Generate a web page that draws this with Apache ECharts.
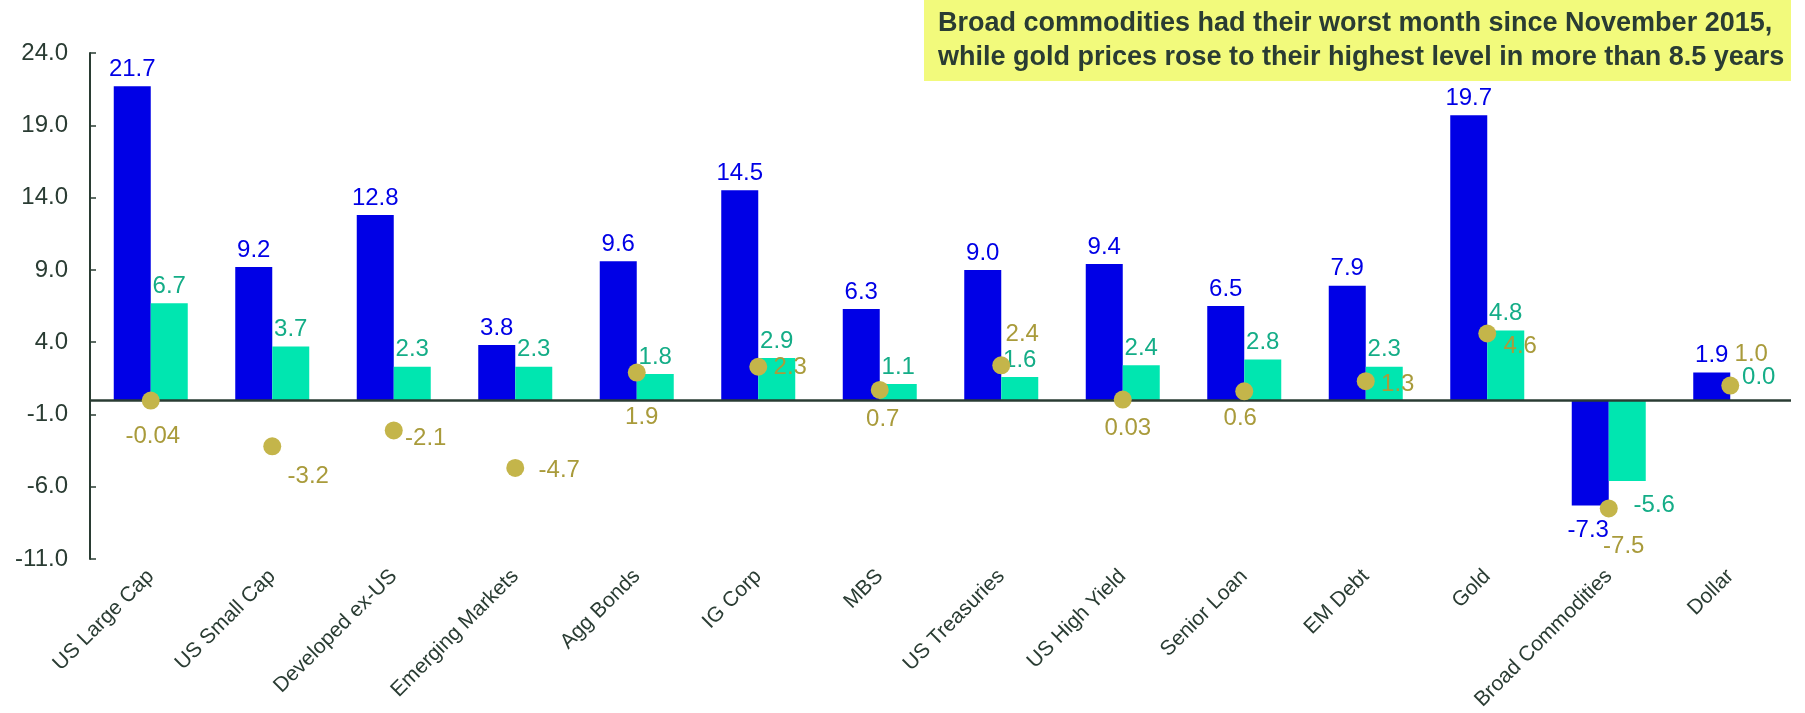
<!DOCTYPE html>
<html>
<head>
<meta charset="utf-8">
<script src="https://cdn.jsdelivr.net/npm/echarts@6/dist/echarts.min.js"></script>
<style>
  html, body { margin: 0; padding: 0; background: #fff; }
</style>
</head>
<body>
<div id="charts" style="width: 1805px; height: 713px"></div>
<script>
const categories = ['US Large Cap', 'US Small Cap', 'Developed ex-US', 'Emerging Markets', 'Agg Bonds',
  'IG Corp', 'MBS', 'US Treasuries', 'US High Yield', 'Senior Loan', 'EM Debt', 'Gold',
  'Broad Commodities', 'Dollar']
const blueValues = [21.7, 9.2, 12.8, 3.8, 9.6, 14.5, 6.3, 9.0, 9.4, 6.5, 7.9, 19.7, -7.3, 1.9]
const greenValues = [6.7, 3.7, 2.3, 2.3, 1.8, 2.9, 1.1, 1.6, 2.4, 2.8, 2.3, 4.8, -5.6, 0.0]
const goldValues = [-0.04, -3.2, -2.1, -4.7, 1.9, 2.3, 0.7, 2.4, 0.03, 0.6, 1.3, 4.6, -7.5, 1.0]
const yTicks = [-11, -6, -1, 4, 9, 14, 19, 24]
const noteLines = ['Broad commodities had their worst month since November 2015,',
  'while gold prices rose to their highest level in more than 8.5 years']

// where each dot label sits, relative to the dot centre
const goldLabelOffsets = [[2, 36], [36, 30], [32, 8], [44, 2], [5, 45], [32, 1], [3, 29],
  [21, -31], [5, 29], [-4, 27], [32, 3], [33, 13], [15, 38], [21, -31]]

const FONT = 'Arial, "Liberation Sans", sans-serif'
const DARK = '#2a3c33'
const BLUE = '#0000e6'
const GREEN = '#00e6b0'
const GOLD = '#c4b54a'
const LABEL_SIZE = 24

const chart = echarts.init(document.getElementById('charts'))

const blueData = blueValues.map(v => {
  if (v < 0) return {value: v, label: {position: 'bottom', offset: [-2, 8]}}
  return v
})
const greenData = greenValues.map((v, i) => {
  if (v < 0) return {value: v, label: {position: 'bottom', offset: [27, 7]}}
  if (categories[i] === 'Dollar') return {value: v, label: {offset: [10, -6]}}
  return v
})
const goldData = goldValues.map((v, i) => ({
  value: v,
  label: {offset: goldLabelOffsets[i]}
}))

chart.setOption({
  animation: false,
  textStyle: {fontFamily: FONT},
  grid: {left: 90, right: 14, top: 53, bottom: 150},
  graphic: [
    {
      type: 'rect',
      shape: {x: 924, y: 0, width: 867, height: 81},
      style: {fill: '#f2fa7c'},
      z: 10
    },
    {
      type: 'text',
      x: 938,
      y: 7,
      z: 11,
      style: {
        text: noteLines.join('\n'),
        font: 'bold 27px ' + FONT,
        lineHeight: 34,
        fill: DARK
      }
    }
  ],
  xAxis: {
    type: 'category',
    data: categories,
    axisLine: {show: false, onZero: false},
    axisTick: {show: false},
    axisLabel: {
      rotate: 45,
      interval: 0,
      margin: 14,
      fontSize: 21,
      color: DARK,
      fontFamily: FONT
    }
  },
  yAxis: {
    type: 'value',
    min: -11,
    max: 24,
    interval: 5,
    splitLine: {show: false},
    axisLine: {show: true, lineStyle: {color: DARK, width: 2}},
    axisTick: {show: true, inside: true, length: 6, lineStyle: {color: DARK, width: 1.5}},
    axisLabel: {
      margin: 22,
      fontSize: LABEL_SIZE,
      color: DARK,
      fontFamily: FONT,
      formatter: function (value) {
        return yTicks.indexOf(value) >= 0 ? value.toFixed(1) : ''
      }
    }
  },
  series: [
    {
      name: 'blue',
      type: 'bar',
      data: blueData,
      barWidth: 37,
      barGap: '0%',
      itemStyle: {color: BLUE},
      label: {
        show: true,
        position: 'top',
        fontSize: LABEL_SIZE,
        color: BLUE,
        fontFamily: FONT,
        formatter: p => p.value.toFixed(1)
      },
      markLine: {
        silent: true,
        symbol: 'none',
        label: {show: false},
        lineStyle: {color: DARK, width: 2.5, type: 'solid'},
        data: [{yAxis: 0}]
      }
    },
    {
      name: 'green',
      type: 'bar',
      data: greenData,
      barWidth: 37,
      barGap: '0%',
      itemStyle: {color: GREEN},
      label: {
        show: true,
        position: 'top',
        fontSize: LABEL_SIZE,
        color: '#14ad87',
        fontFamily: FONT,
        formatter: p => p.value.toFixed(1)
      }
    },
    {
      name: 'gold',
      type: 'scatter',
      data: goldData,
      symbol: 'circle',
      symbolSize: 18,
      z: 5,
      itemStyle: {color: GOLD, opacity: 1},
      label: {
        show: true,
        position: 'inside',
        fontSize: LABEL_SIZE,
        color: '#a99b3b',
        fontFamily: FONT,
        formatter: p => p.value.toFixed(Math.abs(p.value) < 0.1 ? 2 : 1)
      }
    }
  ]
})
</script>
</body>
</html>
